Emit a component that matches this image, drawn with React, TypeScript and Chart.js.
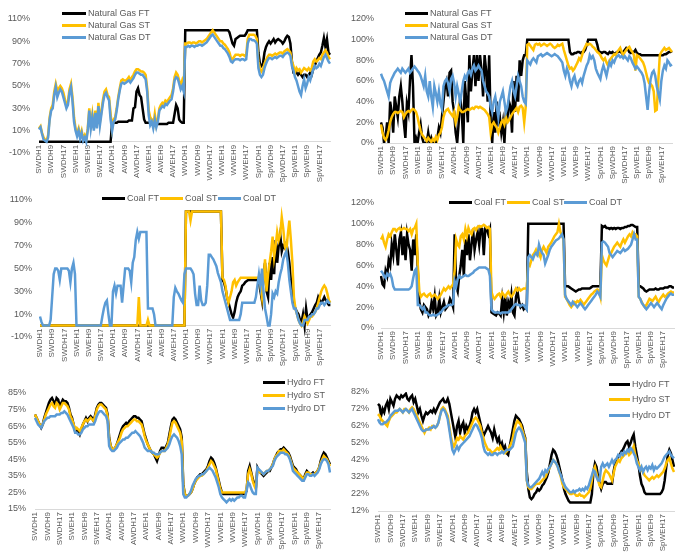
import React, { useEffect, useRef } from "react";
import { Chart, registerables } from "chart.js";

Chart.register(...registerables);

// ---- categories ----
const seasons = ["S", "A", "W", "Sp"];
const dayTypes = ["WD", "WE"];
const hours = [1, 2, 3, 4, 5, 6, 7, 8, 9, 10, 11, 12, 13, 14, 15, 16, 17, 18, 19, 20, 21, 22, 23, 24];
const categories: string[] = [];
for (const s of seasons) for (const d of dayTypes) for (const h of hours) categories.push(`${s}${d}H${h}`);

// ---- Natural Gas (left) ----
const gasFT1 = [
  0,0,0,0,0,0,0,0,0,0,0,0,0,0,0,0,0,0,0,0,0,0,0,0,
  0,0,0,0,0,0,0,0,0,0,0,0,0,0,0,0,0,0,0,0,0,0,0,0,
  17,17,17,17,18,18,18,18,18,18,18,19,19,19,30,31,45,48,42,40,30,20,17,17,
  17,17,17,16,16,16,16,16,16,16,16,16,16,17,17,17,17,25,33,30,20,18,17,17,
  100,100,100,100,100,100,100,100,100,100,100,100,100,100,100,100,100,100,100,100,100,100,100,100,
  100,100,100,100,100,98,93,88,86,92,93,94,95,95,95,95,97,100,100,100,100,100,100,100,
  80,70,68,70,80,85,88,90,88,90,92,89,91,92,91,90,88,90,93,95,94,88,72,62,
  62,62,60,62,60,58,60,60,58,60,62,60,65,68,72,75,78,80,86,93,85,92,80,78,
];
const gasST1 = [
  12,14,8,4,2,1,6,22,30,33,45,52,46,48,50,48,44,38,32,36,47,52,40,22,
  12,8,12,5,10,3,6,2,12,30,15,25,12,28,15,35,18,28,38,45,47,42,40,25,
  12,20,22,30,40,48,55,56,55,55,56,58,55,58,60,63,65,65,64,63,63,62,60,48,
  28,22,20,15,25,15,20,30,33,35,34,37,36,38,40,42,48,58,62,60,55,50,55,50,
  88,88,89,89,88,89,89,88,89,90,90,89,90,91,92,94,96,98,100,98,96,94,92,90,
  90,88,87,85,83,80,75,74,76,78,78,78,77,78,78,77,78,92,96,96,96,96,95,92,
  72,66,63,65,70,73,76,78,78,77,78,79,78,79,80,80,79,81,82,83,82,80,72,68,
  62,66,64,65,62,64,66,65,64,66,64,66,72,74,72,73,75,74,78,80,82,80,76,74,
];
const gasDT1 = [
  11,13,7,2,1,0,4,20,28,30,42,49,40,44,47,45,40,35,30,33,44,49,36,18,
  10,5,10,3,8,1,4,0,10,28,12,22,10,26,12,32,15,25,35,42,44,40,37,20,
  10,18,20,28,38,46,52,53,52,53,54,55,53,55,57,60,62,62,61,60,60,58,56,45,
  24,15,18,12,20,13,18,28,30,32,31,34,33,35,37,38,45,55,58,57,52,47,50,45,
  85,85,86,85,86,86,85,86,86,87,87,86,87,88,89,91,93,95,96,94,92,90,88,86,
  86,84,83,81,79,76,72,71,73,74,74,74,73,74,74,73,74,88,92,92,91,91,90,88,
  66,60,58,60,66,70,73,75,75,74,75,76,75,76,77,77,76,78,79,80,79,77,68,64,
  58,55,50,45,42,50,56,48,52,58,55,60,65,68,66,67,70,68,72,76,78,75,72,70,
];

// ---- Natural Gas (right) ----
const gasFT2 = [
  20,15,0,5,20,0,40,30,10,45,35,25,45,55,40,20,5,38,30,60,85,55,0,5,
  0,10,18,5,0,0,0,10,0,5,0,0,0,5,15,10,25,40,55,60,45,68,70,40,
  30,10,0,20,45,30,0,60,40,20,85,50,70,85,55,85,60,85,70,45,85,70,40,85,
  20,0,30,10,40,20,25,10,20,0,30,25,40,35,10,60,30,65,40,80,65,80,85,85,
  100,100,100,100,100,100,100,100,100,100,100,100,100,100,100,100,100,100,100,100,100,100,100,100,
  100,100,100,100,88,86,86,87,87,88,88,87,88,88,90,95,100,100,100,100,100,100,95,88,
  88,87,88,88,87,86,88,87,88,86,87,88,88,89,87,88,90,92,91,88,87,88,88,90,
  87,86,86,85,85,85,85,85,85,85,85,85,85,85,85,85,85,85,86,86,87,88,88,89,
];
const gasST2 = [
  18,10,5,3,6,12,20,25,28,30,30,29,30,31,30,25,28,30,31,30,32,33,32,30,
  25,18,12,8,6,4,2,5,3,1,4,2,6,3,8,10,15,25,30,32,33,30,28,26,
  30,20,25,35,32,30,30,31,32,33,32,33,34,33,35,35,34,35,34,33,32,30,28,25,
  10,18,20,17,15,10,15,20,22,18,25,20,22,25,28,30,32,34,30,35,36,34,20,35,
  95,96,94,92,90,95,96,95,96,94,95,96,95,94,95,96,95,93,92,93,95,94,95,96,
  90,85,80,75,72,73,70,72,75,78,82,80,85,90,93,96,95,96,95,93,92,90,88,87,
  85,82,80,82,78,75,80,82,84,86,85,88,90,92,88,85,88,90,92,93,90,88,85,70,
  85,84,82,80,78,74,68,62,58,57,55,50,31,32,60,85,88,90,92,90,91,92,90,88,
];
const gasDT2 = [
  67,63,60,55,50,45,58,62,65,68,70,72,70,68,72,70,68,70,72,68,70,72,74,72,
  70,68,65,60,55,65,50,45,60,45,35,55,48,40,50,38,33,55,60,62,58,50,62,65,
  58,45,55,48,40,50,60,65,62,68,70,66,72,75,70,72,75,72,70,60,55,50,48,45,
  35,30,40,45,35,25,40,45,50,40,30,35,45,55,60,50,45,55,65,60,55,45,40,38,
  80,78,76,80,82,80,78,84,85,86,84,85,86,87,86,85,84,85,86,85,84,82,80,78,
  70,65,72,68,60,55,62,65,58,55,60,62,58,65,70,75,78,85,82,84,80,72,68,65,
  62,70,75,70,65,72,78,75,80,78,82,84,85,83,84,82,84,82,80,84,82,78,75,72,
  74,72,70,68,65,58,45,32,50,62,68,70,65,55,48,42,60,70,75,72,80,78,75,76,
];

// ---- Coal (left) ----
const coalFT1 = [
  0,0,0,0,0,0,0,0,0,0,0,0,0,0,0,0,0,0,0,0,0,0,0,0,
  0,0,0,0,0,0,0,0,0,0,0,0,0,0,0,0,0,0,0,0,0,0,0,0,
  0,0,0,0,0,0,0,0,0,0,0,0,0,0,0,0,0,0,0,0,0,0,0,0,
  0,0,0,0,0,0,0,0,0,0,0,0,0,0,0,0,0,0,0,0,0,0,0,0,
  100,100,100,100,100,100,100,100,100,100,100,100,100,100,100,100,100,100,100,100,100,100,100,100,
  40,38,33,25,20,15,10,7,12,20,25,28,30,35,36,38,39,40,40,40,40,40,40,40,
  38,30,22,45,55,30,25,55,40,60,45,75,55,70,80,65,70,68,72,65,55,40,25,18,
  15,12,10,5,3,10,0,15,5,8,10,12,15,18,20,25,22,20,22,25,22,20,18,18,
];
const coalST1 = [
  0,0,0,0,0,0,0,0,0,0,0,0,0,0,0,0,0,0,0,0,0,0,0,0,
  0,0,0,0,0,0,0,0,0,0,0,0,0,0,0,0,0,0,0,0,0,0,0,0,
  0,0,0,0,0,0,0,0,0,0,0,0,0,0,0,0,0,25,0,0,0,0,0,5,
  0,0,0,0,0,0,0,0,0,0,0,0,0,0,0,0,0,0,0,0,0,0,0,0,
  100,100,100,92,100,100,100,100,100,100,100,100,100,100,100,100,100,100,100,100,100,100,100,100,
  42,40,35,25,20,25,30,38,40,35,38,40,42,42,42,42,42,42,42,42,42,42,42,42,
  42,35,25,40,58,30,45,55,65,78,60,70,82,75,80,95,85,70,65,80,92,75,55,25,
  15,10,5,2,0,3,8,5,2,5,8,8,10,12,15,20,25,30,33,35,33,28,22,20,
];
const coalDT1 = [
  8,3,0,0,0,0,0,5,25,45,50,50,48,40,50,50,50,50,50,48,38,50,55,45,
  0,0,0,0,0,0,0,0,0,0,0,0,0,0,0,0,0,8,15,20,22,10,0,0,
  30,35,28,35,35,35,20,35,50,50,50,48,38,55,60,75,82,76,82,82,82,82,82,15,
  15,15,15,10,0,0,0,0,0,0,0,0,0,0,0,0,25,33,30,28,25,22,20,45,
  50,50,50,50,48,45,28,18,18,35,22,18,18,20,35,62,62,60,58,55,52,46,42,38,
  30,25,20,15,10,5,5,5,5,5,5,5,10,20,20,20,20,20,20,20,20,20,25,35,
  45,35,50,30,15,8,0,0,10,28,25,30,28,38,45,50,58,62,65,55,40,30,20,15,
  15,10,5,2,0,0,5,5,5,8,8,10,10,12,15,15,18,20,20,18,20,22,20,20,
];

// ---- Coal (right) ----
const coalFT2 = [
  50,42,40,55,50,65,60,80,70,90,75,60,85,92,70,88,65,90,80,75,55,85,70,90,
  55,25,18,15,22,20,18,12,15,25,18,30,12,15,28,15,20,25,18,20,22,28,25,20,
  90,40,35,50,60,75,50,85,70,90,65,80,95,75,85,92,80,96,95,70,96,95,90,95,
  15,14,13,12,15,14,12,28,15,30,12,25,20,32,15,12,30,35,25,20,22,18,20,18,
  100,100,100,100,100,100,100,100,100,100,100,100,100,100,100,100,100,100,100,100,100,100,100,100,
  40,40,40,39,38,37,36,35,36,37,37,38,38,38,38,38,38,39,40,40,40,40,40,40,
  98,97,98,96,96,95,96,95,96,95,96,96,95,96,96,97,97,98,98,99,99,98,97,97,
  40,40,39,38,36,35,36,37,37,37,37,38,37,37,38,38,38,39,39,39,40,40,39,39,
];
const coalST2 = [
  85,88,82,78,85,90,88,92,95,95,93,95,96,94,95,96,95,95,93,95,90,95,96,100,
  60,35,30,32,33,31,30,32,33,30,31,32,30,28,30,32,35,38,36,38,40,38,40,42,
  55,85,80,78,88,90,85,95,88,96,92,90,95,96,94,97,98,97,98,99,98,96,97,95,
  35,30,28,30,32,33,30,34,32,30,33,35,32,30,32,35,38,36,38,36,37,38,38,38,
  62,60,65,70,72,75,70,72,68,75,78,75,72,78,80,82,85,88,90,92,100,92,88,85,
  30,28,25,22,20,22,25,24,26,25,27,25,22,24,26,28,30,32,33,35,36,37,36,30,
  70,65,62,60,65,70,72,75,78,80,82,80,78,82,85,82,85,88,90,88,92,90,90,88,
  30,28,25,22,20,22,25,28,27,26,28,30,27,25,28,30,32,30,31,33,34,35,34,34,
];
const coalDT2 = [
  55,53,50,48,52,50,52,48,40,37,37,37,37,37,37,37,37,37,37,38,40,48,55,57,
  22,22,20,18,20,15,15,13,12,12,13,12,12,13,14,15,17,19,20,21,22,22,22,23,
  45,40,47,50,48,49,50,51,50,50,51,52,53,55,56,57,58,58,58,58,58,57,56,50,
  18,16,15,15,15,15,14,15,15,15,15,15,16,18,20,22,23,22,22,21,22,22,20,18,
  68,70,68,66,70,72,70,80,75,72,70,62,66,70,75,78,80,82,84,85,86,88,90,85,
  32,28,26,24,22,25,23,22,20,22,24,22,20,18,20,22,24,26,28,30,32,35,33,30,
  82,83,82,80,78,72,70,68,70,72,74,73,72,74,76,74,75,76,78,80,85,90,85,85,
  30,28,24,22,20,18,20,22,24,22,20,22,24,22,20,18,22,25,28,30,32,33,32,32,
];

// ---- Hydro (left) ----
const hydroFT1 = [
  72,70,68,66,64,66,70,73,76,79,81,82,80,78,82,81,77,79,81,80,80,79,76,72,
  70,66,62,63,62,60,63,66,68,70,68,70,71,70,68,72,76,78,79,79,78,77,76,72,
  58,53,51,51,52,54,57,60,63,65,66,67,66,68,69,70,71,71,70,70,69,68,64,60,
  57,54,52,50,49,48,46,44,47,50,52,52,51,53,55,60,65,69,70,69,67,65,63,58,
  30,24,23,23,24,25,27,30,32,34,35,36,36,37,38,39,41,44,46,45,43,40,36,32,
  28,25,24,24,24,24,24,24,24,24,24,24,24,24,24,24,24,26,38,41,37,33,30,28,
  40,38,37,36,35,36,37,38,38,40,42,45,47,49,50,51,51,52,51,50,49,47,44,41,
  40,39,37,36,35,34,33,36,38,37,36,36,37,36,37,38,40,44,47,49,48,46,44,42,
];
const hydroST1 = [
  72,70,68,66,65,66,69,72,74,76,78,79,77,76,79,78,75,77,79,79,78,77,75,71,
  69,66,63,64,63,62,64,66,68,69,68,69,70,69,68,71,75,77,78,78,77,76,75,71,
  57,53,51,51,52,54,56,58,61,63,64,65,65,66,67,68,69,69,68,68,67,66,63,59,
  56,54,52,50,49,48,47,46,47,49,50,50,50,52,54,58,63,67,68,67,65,63,61,56,
  29,24,23,23,24,25,27,30,32,33,34,35,35,36,37,38,40,42,44,43,41,39,35,31,
  27,25,25,25,25,25,25,25,25,25,25,25,25,25,25,25,25,27,36,39,36,32,29,27,
  39,38,37,37,36,37,38,38,39,40,42,45,47,48,50,50,50,51,50,49,48,46,43,40,
  39,38,37,36,35,34,33,35,37,37,36,36,36,36,37,38,40,43,45,47,46,45,43,41,
];
const hydroDT1 = [
  70,68,66,65,64,66,68,69,70,70,71,71,71,71,72,72,72,73,73,74,73,72,70,68,
  66,64,61,61,60,60,61,63,64,65,65,66,66,66,66,68,71,73,74,74,73,72,71,68,
  53,51,50,50,51,52,54,55,56,57,57,58,58,59,60,61,61,62,61,60,59,57,55,52,
  51,50,50,50,49,49,48,48,48,49,50,50,50,51,52,54,57,59,60,59,58,56,53,48,
  24,22,22,23,24,26,29,31,33,34,35,35,36,36,37,38,39,40,39,38,36,34,31,28,
  24,22,21,20,19,20,21,20,21,20,21,22,22,23,23,22,22,26,31,30,27,25,24,24,
  40,39,38,37,36,37,38,38,39,40,41,44,46,47,48,49,49,49,48,48,47,45,42,38,
  37,36,35,34,33,32,32,34,36,36,35,35,36,35,36,37,39,42,44,45,45,44,42,37,
];

// ---- Hydro (right) ----
const hydroFT2 = [
  75,74,68,72,70,74,76,72,78,76,74,78,80,79,78,80,79,80,81,78,77,79,80,76,
  78,74,70,72,68,65,68,70,69,70,71,70,72,70,72,74,76,77,78,76,76,78,75,70,
  65,60,55,62,65,58,62,64,58,62,60,62,65,70,72,70,72,68,64,60,56,58,60,62,
  60,58,55,60,56,53,55,50,52,48,50,46,45,50,55,60,65,68,67,66,64,62,58,55,
  35,25,20,19,20,22,23,25,24,25,27,28,30,32,35,40,45,48,47,45,42,38,34,30,
  25,22,20,18,17,17,17,17,17,17,17,17,17,17,17,17,17,17,22,35,40,38,32,28,
  25,28,29,29,28,28,28,28,35,40,42,44,45,47,48,50,52,53,50,52,55,57,50,45,
  40,33,28,26,23,22,22,22,22,22,22,22,22,22,22,23,25,30,38,45,48,46,42,38,
];
const hydroST2 = [
  69,68,66,65,64,63,62,65,67,68,69,70,70,71,72,71,70,72,72,71,70,72,73,72,
  70,68,66,64,62,60,58,60,60,61,60,62,62,61,62,64,68,72,73,72,70,68,62,56,
  52,50,52,55,54,56,55,54,56,57,58,60,62,64,66,67,66,64,62,58,55,52,50,48,
  48,47,46,47,48,49,48,50,48,47,46,47,48,50,52,55,60,63,65,64,63,60,57,54,
  30,26,25,25,26,27,28,28,28,29,30,31,32,34,36,38,40,42,41,40,38,35,32,28,
  26,25,24,23,22,22,23,22,21,21,22,21,21,20,21,22,23,25,30,36,38,34,30,27,
  26,30,34,36,35,34,32,30,34,38,40,42,41,43,44,45,46,47,45,46,48,50,45,42,
  40,38,36,35,33,32,31,30,31,32,31,32,33,32,33,34,35,37,40,42,43,40,37,35,
];
const hydroDT2 = [
  66,64,63,63,64,64,65,66,68,69,70,71,71,71,72,71,70,71,72,71,70,71,72,70,
  68,66,64,62,60,59,59,60,60,60,61,61,62,61,62,64,68,71,72,71,69,66,60,54,
  48,46,48,50,48,50,51,52,53,54,55,56,58,60,62,63,62,60,58,55,50,47,46,45,
  46,45,45,46,46,45,46,46,47,46,47,48,48,48,49,50,54,58,60,61,60,58,55,52,
  30,27,26,26,27,28,29,30,31,33,35,33,36,35,37,38,40,42,41,40,38,35,33,30,
  28,26,25,24,23,23,24,23,24,24,25,24,25,24,26,25,27,30,33,36,35,32,30,30,
  38,40,38,39,40,38,40,42,40,42,43,45,44,46,45,47,46,48,47,49,48,46,44,40,
  38,36,38,35,37,38,36,38,37,39,36,38,37,38,39,40,42,44,45,46,47,45,44,43,
];

const C_FT = "#000000";
const C_ST = "#FFC000";
const C_DT = "#5B9BD5";
const TEXT = "#595959";
const FONT = "'Liberation Sans', Arial, sans-serif";

type Series = { label: string; data: number[]; color: string };
type LegendItem = { label: string; color: string; x: number; y: number; w: number };
type Panel = {
  left: number; top: number; width: number; height: number;
  yMin: number; yMax: number; step: number;
  yWidth: number; yPad: number; padTop: number; padRight: number; bottom: number;
  zeroAxis: boolean;
  series: Series[];
  legend: LegendItem[];
};

function mk(prefix: string, a: number[], b: number[], c: number[]): Series[] {
  return [
    { label: `${prefix} FT`, data: a, color: C_FT },
    { label: `${prefix} ST`, data: b, color: C_ST },
    { label: `${prefix} DT`, data: c, color: C_DT },
  ];
}

const panels: Panel[] = [
  {
    left: 0, top: 0, width: 343, height: 185, yMin: -10, yMax: 110, step: 20,
    yWidth: 39, yPad: 9, padTop: 19, padRight: 13, bottom: 32, zeroAxis: true,
    series: mk("Natural Gas", gasFT1, gasST1, gasDT1),
    legend: [
      { label: "Natural Gas FT", color: C_FT, x: 62, y: 13, w: 24 },
      { label: "Natural Gas ST", color: C_ST, x: 62, y: 25, w: 24 },
      { label: "Natural Gas DT", color: C_DT, x: 62, y: 37, w: 24 },
    ],
  },
  {
    left: 343, top: 0, width: 344, height: 185, yMin: 0, yMax: 120, step: 20,
    yWidth: 38, yPad: 7, padTop: 19, padRight: 15, bottom: 42, zeroAxis: false,
    series: mk("Natural Gas", gasFT2, gasST2, gasDT2),
    legend: [
      { label: "Natural Gas FT", color: C_FT, x: 405, y: 13, w: 23 },
      { label: "Natural Gas ST", color: C_ST, x: 405, y: 25, w: 23 },
      { label: "Natural Gas DT", color: C_DT, x: 405, y: 37, w: 23 },
    ],
  },
  {
    left: 0, top: 185, width: 343, height: 185, yMin: -10, yMax: 110, step: 20,
    yWidth: 40, yPad: 8, padTop: 15, padRight: 11, bottom: 33, zeroAxis: true,
    series: mk("Coal", coalFT1, coalST1, coalDT1),
    legend: [
      { label: "Coal FT", color: C_FT, x: 102, y: 198, w: 23 },
      { label: "Coal ST", color: C_ST, x: 160, y: 198, w: 23 },
      { label: "Coal DT", color: C_DT, x: 218, y: 198, w: 23 },
    ],
  },
  {
    left: 343, top: 185, width: 344, height: 185, yMin: 0, yMax: 120, step: 20,
    yWidth: 38, yPad: 7, padTop: 18, padRight: 13, bottom: 42, zeroAxis: false,
    series: mk("Coal", coalFT2, coalST2, coalDT2),
    legend: [
      { label: "Coal FT", color: C_FT, x: 449, y: 202, w: 23 },
      { label: "Coal ST", color: C_ST, x: 507, y: 202, w: 23 },
      { label: "Coal DT", color: C_DT, x: 564, y: 202, w: 23 },
    ],
  },
  {
    left: 0, top: 370, width: 343, height: 186, yMin: 15, yMax: 85, step: 10,
    yWidth: 35, yPad: 9, padTop: 23, padRight: 13, bottom: 47, zeroAxis: false,
    series: mk("Hydro", hydroFT1, hydroST1, hydroDT1),
    legend: [
      { label: "Hydro FT", color: C_FT, x: 263, y: 382, w: 22 },
      { label: "Hydro ST", color: C_ST, x: 263, y: 395, w: 22 },
      { label: "Hydro DT", color: C_DT, x: 263, y: 408, w: 22 },
    ],
  },
  {
    left: 343, top: 370, width: 344, height: 186, yMin: 12, yMax: 82, step: 10,
    yWidth: 35, yPad: 9, padTop: 22, padRight: 13, bottom: 45, zeroAxis: false,
    series: mk("Hydro", hydroFT2, hydroST2, hydroDT2),
    legend: [
      { label: "Hydro FT", color: C_FT, x: 609, y: 384, w: 21 },
      { label: "Hydro ST", color: C_ST, x: 609, y: 399, w: 21 },
      { label: "Hydro DT", color: C_DT, x: 609, y: 415, w: 21 },
    ],
  },
];

function ChartPanel({ p }: { p: Panel }) {
  const ref = useRef<HTMLCanvasElement | null>(null);
  useEffect(() => {
    if (!ref.current) return;
    const chart = new Chart(ref.current, {
      type: "line",
      data: {
        labels: categories,
        datasets: p.series.map((s, i) => ({
          label: s.label,
          data: s.data,
          borderColor: s.color,
          backgroundColor: s.color,
          borderWidth: 2.5,
          pointRadius: 0,
          tension: 0,
          fill: false,
          order: 2 - i,
        })),
      },
      options: {
        responsive: false,
        animation: false,
        events: [],
        layout: {
          padding: { left: 0, top: p.padTop, right: p.padRight, bottom: p.zeroAxis ? p.bottom : 0 },
        },
        plugins: { legend: { display: false }, tooltip: { enabled: false }, title: { display: false } },
        scales: {
          x: {
            type: "category",
            position: (p.zeroAxis ? { y: 0 } : "bottom") as any,
            grid: { display: true, color: "rgba(0,0,0,0)", drawTicks: false },
            border: { display: true, color: "#D9D9D9", width: 1 },
            ticks: {
              autoSkip: false,
              maxRotation: 90,
              minRotation: 90,
              padding: 3,
              color: TEXT,
              font: { family: FONT, size: 8 },
              callback: (_v: any, i: number) => (i % 8 === 0 ? categories[i] : ""),
            },
            afterFit: (s: any) => {
              s.height = p.zeroAxis ? 0 : p.bottom;
            },
          },
          y: {
            type: "linear",
            min: p.yMin,
            max: p.yMax,
            grid: { display: false, drawTicks: false },
            border: { display: false },
            ticks: {
              stepSize: p.step,
              padding: p.yPad,
              color: TEXT,
              font: { family: FONT, size: 9 },
              callback: (v: any) => `${v}%`,
            },
            afterFit: (s: any) => {
              s.width = p.yWidth;
            },
          },
        },
      },
    } as any);
    return () => chart.destroy();
  }, []);
  return (
    <canvas
      ref={ref}
      width={p.width}
      height={p.height}
      style={{ position: "absolute", left: p.left, top: p.top, width: p.width, height: p.height }}
    />
  );
}

function Legend({ items }: { items: LegendItem[] }) {
  return (
    <>
      {items.map((it, i) => (
        <div key={i} style={{ position: "absolute", left: it.x, top: it.y - 7, height: 14, display: "flex", alignItems: "center", whiteSpace: "nowrap" }}>
          <div style={{ width: it.w, height: 3, background: it.color }} />
          <span style={{ marginLeft: 2, fontFamily: FONT, fontSize: 9, color: TEXT, lineHeight: "14px" }}>{it.label}</span>
        </div>
      ))}
    </>
  );
}

export default function App() {
  return (
    <div style={{ position: "absolute", left: 0, top: 0, width: 687, height: 556, background: "#fff", overflow: "hidden" }}>
      {panels.map((p, i) => (
        <ChartPanel key={i} p={p} />
      ))}
      {panels.map((p, i) => (
        <Legend key={"l" + i} items={p.legend} />
      ))}
    </div>
  );
}
